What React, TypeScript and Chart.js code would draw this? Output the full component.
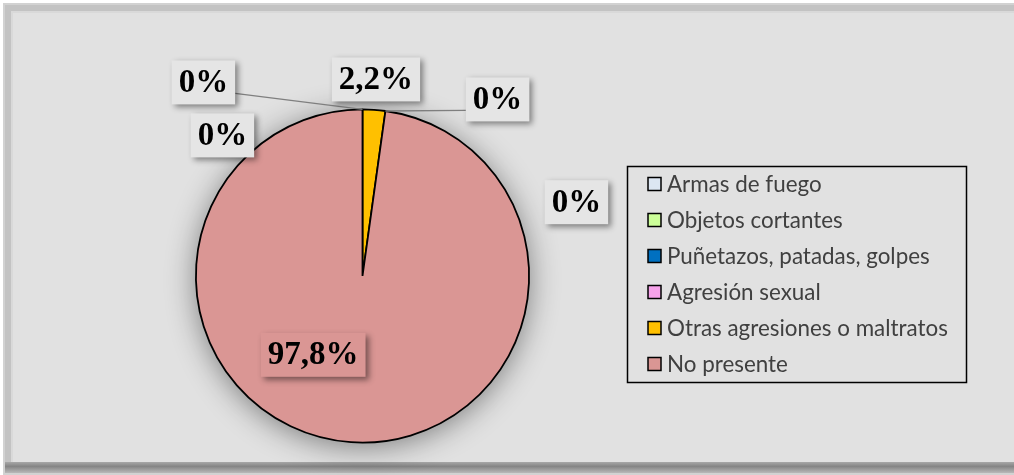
import React, { useEffect, useRef } from "react";
import { Chart, registerables } from "chart.js";
Chart.register(...registerables);

// ---- data ----
const categories = [
  "Armas de fuego",
  "Objetos cortantes",
  "Puñetazos, patadas, golpes",
  "Agresión sexual",
  "Otras agresiones o maltratos",
  "No presente",
];
const values = [0, 0, 0, 0, 2.2, 97.8];
const valueLabels = ["0%", "0%", "0%", "0%", "2,2%", "97,8%"];
const sliceColors = ["#DCE6F2", "#CCFF99", "#0070C0", "#F6A2EA", "#FFC000", "#DA9694"];

// label placement relative to pie centre, in units of the radius
const labelLayout = [
  { dx: -0.955, dy: -1.162, fill: "#e5e5e5", leader: { side: 1, slice: 0, edge: "start" } },
  { dx: -0.841, dy: -0.844, fill: "#e5e5e5" },
  { dx: 1.284, dy: -0.443, fill: "#e5e5e5" },
  { dx: 0.811, dy: -1.06, fill: "#e5e5e5", leader: { side: -1, slice: 4, edge: "end" } },
  { dx: 0.081, dy: -1.18, fill: "#e5e5e5" },
  { dx: -0.296, dy: 0.473, fill: "#DA9694" },
];

const W = 1014;
const H = 475;

const framePlugin = {
  id: "frame",
  beforeDraw(chart: any) {
    const ctx = chart.ctx;
    ctx.save();
    ctx.fillStyle = "#ffffff";
    ctx.fillRect(0, 0, W, H);
    ctx.fillStyle = "#d2d2d2";
    ctx.fillRect(3, 3, W - 3, H - 3);
    ctx.fillStyle = "#c3c3c3";
    ctx.fillRect(5, 5, W - 5, H - 7);
    const g = ctx.createLinearGradient(0, 462, 0, 473);
    g.addColorStop(0, "#a8a8a8");
    g.addColorStop(0.4, "#858585");
    g.addColorStop(1, "#b8b8b8");
    ctx.fillStyle = g;
    ctx.fillRect(5, 462, W - 5, 11);
    ctx.fillStyle = "#d9d9d9";
    ctx.fillRect(11, 11, W - 11, 451);
    ctx.fillStyle = "#e1e1e1";
    ctx.fillRect(13, 13, W - 13, 449);
    ctx.restore();
  },
  beforeDatasetsDraw(chart: any) {
    const arc = chart.getDatasetMeta(0).data[0];
    if (!arc) return;
    const ctx = chart.ctx;
    ctx.save();
    ctx.shadowColor = "rgba(0,0,0,0.45)";
    ctx.shadowBlur = 30;
    ctx.shadowOffsetY = 4;
    ctx.fillStyle = sliceColors[5];
    ctx.beginPath();
    ctx.arc(arc.x, arc.y, arc.outerRadius, 0, Math.PI * 2);
    ctx.fill();
    ctx.restore();
  },
};

const labelPlugin = {
  id: "boxLabels",
  afterDatasetsDraw(chart: any) {
    const meta = chart.getDatasetMeta(0);
    const arcs = meta.data;
    if (!arcs.length) return;
    const cx = arcs[0].x;
    const cy = arcs[0].y;
    const r = arcs[0].outerRadius;
    const ctx = chart.ctx;
    ctx.save();
    ctx.font = "bold 33px 'Liberation Serif', 'Times New Roman', serif";
    ctx.textAlign = "center";
    ctx.textBaseline = "middle";
    labelLayout.forEach((L: any, i: number) => {
      const x = cx + L.dx * r;
      const y = cy + L.dy * r;
      const tw = ctx.measureText(valueLabels[i]).width;
      const bw = tw + 14;
      const bh = 44;
      if (L.leader) {
        const a = arcs[L.leader.slice];
        const ang = L.leader.edge === "start" ? a.startAngle : a.endAngle;
        const tx = cx + Math.cos(ang) * r;
        const ty = cy + Math.sin(ang) * r;
        ctx.strokeStyle = "#7f7f7f";
        ctx.lineWidth = 1.3;
        ctx.beginPath();
        ctx.moveTo(x + (L.leader.side * bw) / 2, y + 11);
        ctx.lineTo(tx, ty);
        ctx.stroke();
      }
      ctx.save();
      ctx.shadowColor = "rgba(0,0,0,0.45)";
      ctx.shadowBlur = 6;
      ctx.shadowOffsetX = 3;
      ctx.shadowOffsetY = 3;
      ctx.fillStyle = L.fill;
      ctx.fillRect(x - bw / 2, y - bh / 2, bw, bh);
      ctx.restore();
      ctx.fillStyle = "#000";
      ctx.fillText(valueLabels[i], x, y + 1);
    });
    ctx.restore();
  },
};

const legendPlugin = {
  id: "boxLegend",
  afterDraw(chart: any) {
    const ctx = chart.ctx;
    ctx.save();
    const left = 627.5;
    const top = 166.5;
    const w = 339;
    const h = 216;
    ctx.strokeStyle = "#000";
    ctx.lineWidth = 1.5;
    ctx.strokeRect(left, top, w, h);
    ctx.font = "22.4px 'Lato', 'Open Sans', sans-serif";
    ctx.textBaseline = "middle";
    ctx.textAlign = "left";
    categories.forEach((c, i) => {
      const yc = 184 + i * 36;
      ctx.fillStyle = sliceColors[i];
      ctx.fillRect(648, yc - 6.5, 13, 13);
      ctx.strokeStyle = "#000";
      ctx.lineWidth = 1.5;
      ctx.strokeRect(648, yc - 6.5, 13, 13);
      ctx.fillStyle = "#404040";
      ctx.fillText(c, 667, yc + 1);
    });
    ctx.restore();
  },
};

export default function App() {
  const ref = useRef<HTMLCanvasElement | null>(null);
  useEffect(() => {
    if (!ref.current) return;
    const chart = new Chart(ref.current, {
      type: "pie",
      data: {
        labels: categories,
        datasets: [
          {
            data: values,
            backgroundColor: sliceColors,
            borderColor: "#000",
            borderWidth: 1.8,
          },
        ],
      },
      options: {
        responsive: false,
        animation: false,
        devicePixelRatio: 1,
        layout: { padding: { left: 195, right: 484, top: 108, bottom: 31 } },
        plugins: {
          legend: { display: false },
          tooltip: { enabled: false },
        },
      },
      plugins: [framePlugin, labelPlugin, legendPlugin],
    });
    return () => chart.destroy();
  }, []);
  return (
    <div style={{ position: "absolute", left: 0, top: 0, width: W, height: H }}>
      <canvas ref={ref} width={W} height={H} style={{ width: W, height: H, display: "block" }} />
    </div>
  );
}
